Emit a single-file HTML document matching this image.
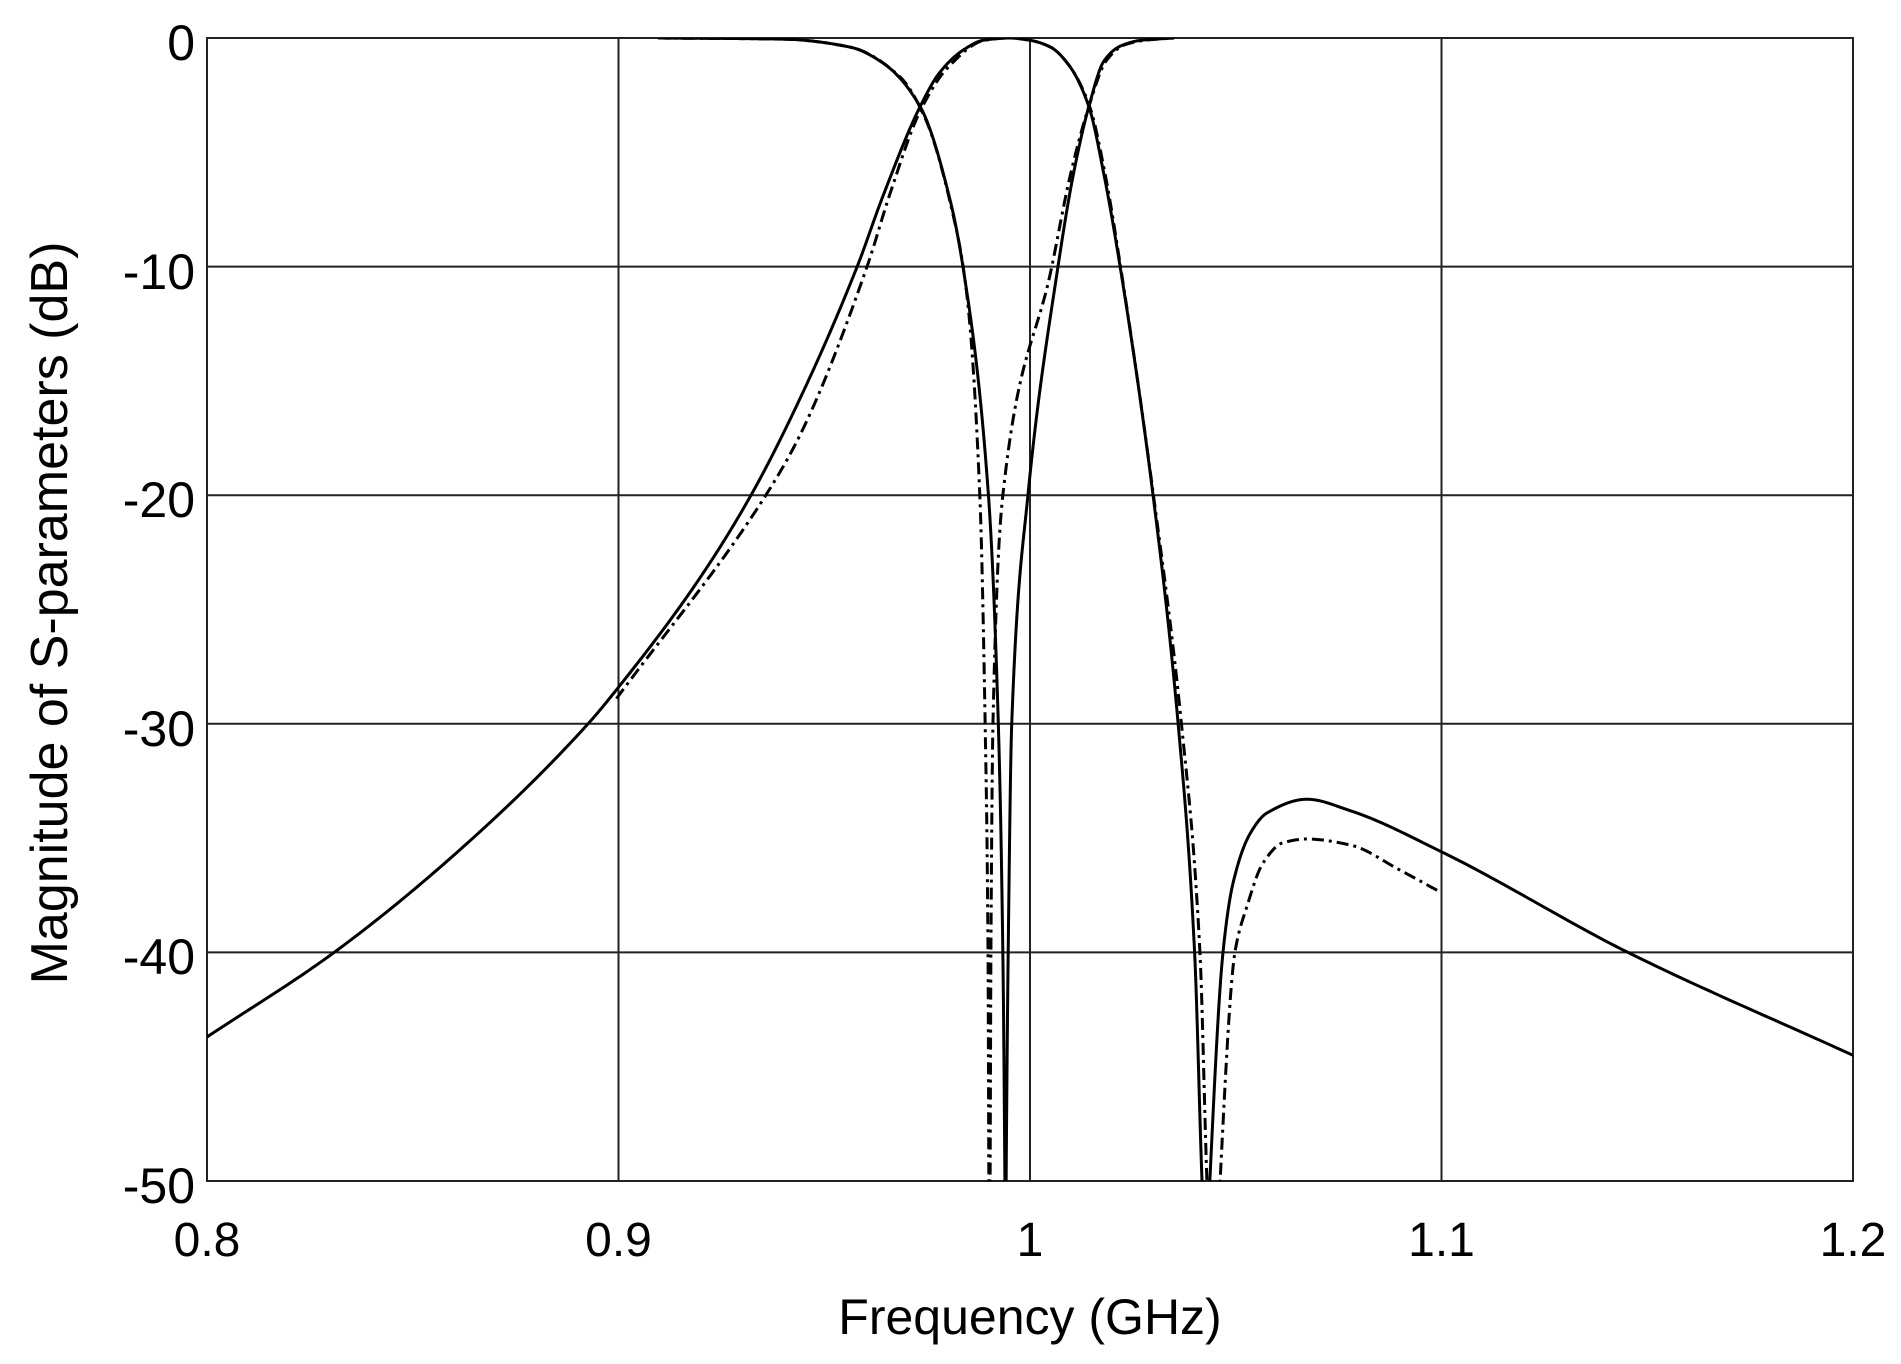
<!DOCTYPE html>
<html><head><meta charset="utf-8"><style>
html,body{margin:0;padding:0;background:#fff;}
svg{display:block;}
text{font-family:"Liberation Sans",Arial,sans-serif;fill:#000;}
</style></head><body>
<svg id="s" width="1901" height="1364" viewBox="0 0 1901 1364" xmlns="http://www.w3.org/2000/svg">
<defs><clipPath id="c"><rect x="207" y="38" width="1646" height="1143"/></clipPath></defs>
<rect x="0" y="0" width="1901" height="1364" fill="#fff"/>
<g stroke="#222" stroke-width="2" fill="none">
<line x1="207" y1="266.6" x2="1853" y2="266.6"/>
<line x1="207" y1="495.2" x2="1853" y2="495.2"/>
<line x1="207" y1="723.8" x2="1853" y2="723.8"/>
<line x1="207" y1="952.4" x2="1853" y2="952.4"/>
<line x1="618.5" y1="38" x2="618.5" y2="1181"/>
<line x1="1030" y1="38" x2="1030" y2="1181"/>
<line x1="1441.5" y1="38" x2="1441.5" y2="1181"/>
<rect x="207" y="38" width="1646" height="1143"/>
</g>
<g id="curves" clip-path="url(#c)" fill="none" stroke="#000" stroke-width="3" stroke-linejoin="round"></g>
<g font-size="50" text-anchor="end">
<text x="195" y="60">0</text>
<text x="195" y="289">-10</text>
<text x="195" y="517">-20</text>
<text x="195" y="746">-30</text>
<text x="195" y="974">-40</text>
<text x="195" y="1203">-50</text>
</g>
<g font-size="48" text-anchor="middle">
<text x="207" y="1256">0.8</text>
<text x="618.5" y="1256">0.9</text>
<text x="1030" y="1256">1</text>
<text x="1441.5" y="1256">1.1</text>
<text x="1853" y="1256">1.2</text>
</g>
<text x="1030" y="1334" font-size="50" text-anchor="middle">Frequency (GHz)</text>
<text transform="translate(67,613) rotate(-90)" font-size="52" text-anchor="middle">Magnitude of S-parameters (dB)</text>
</svg>
<script>
function X(f){return 207+(f-0.8)*4115;}
function Y(d){return 38-d*22.86;}
function mono(pts){
  var n=pts.length,x=pts.map(function(a){return a[0];}),y=pts.map(function(a){return a[1];});
  var d=[],m=[];
  for(var i=0;i<n-1;i++)d.push((y[i+1]-y[i])/(x[i+1]-x[i]));
  m[0]=d[0];m[n-1]=d[n-2];
  for(i=1;i<n-1;i++){ if(d[i-1]*d[i]<=0)m[i]=0; else { var h0=x[i]-x[i-1],h1=x[i+1]-x[i]; var w1=2*h1+h0,w2=h1+2*h0; m[i]=(w1+w2)/(w1/d[i-1]+w2/d[i]); } }
  var out=[];
  for(i=0;i<n-1;i++){
    var h=x[i+1]-x[i],N=30;
    for(var k=0;k<N;k++){
      var t=k/N,t2=t*t,t3=t2*t;
      var v=(2*t3-3*t2+1)*y[i]+(t3-2*t2+t)*h*m[i]+(-2*t3+3*t2)*y[i+1]+(t3-t2)*h*m[i+1];
      out.push([x[i]+t*h,v]);
    }
  }
  out.push([x[n-1],y[n-1]]);
  return "M"+out.map(function(p){return X(p[0]).toFixed(2)+","+Y(p[1]).toFixed(2);}).join(" L");
}
var S21=[[[0.8,-43.7],[0.8309,-40],[0.8634,-35.2],[0.8926,-30],[0.9,-28.4],[0.9191,-23.8],[0.9322,-20],[0.9443,-15.7],[0.958,-10],[0.9643,-6.9],[0.9733,-3],[0.9781,-1.5],[0.984,-0.5],[0.9886,-0.1],[0.995,0],[1.0,-0.1],[1.005,-0.4],[1.0095,-1.2],[1.0143,-3],[1.018,-6],[1.0219,-10],[1.0299,-20],[1.036,-30],[1.040,-40],[1.0418,-50],[1.0425,-53]],
[[1.043,-53],[1.0437,-50],[1.0469,-40],[1.0493,-37],[1.0535,-34.8],[1.0576,-33.9],[1.0673,-33.3],[1.0778,-33.8],[1.1,-35.6],[1.1453,-40],[1.2,-44.5]]];
var S21d=[[[0.8995,-28.9],[0.9358,-20],[0.9443,-17.3],[0.9604,-10],[0.966,-6.8],[0.9733,-3.2],[0.98,-1.3],[0.989,-0.1],[0.995,0],[1.0,-0.1],[1.005,-0.4],[1.0095,-1.2],[1.0145,-3],[1.0183,-6],[1.022,-10],[1.030,-20],[1.0368,-30],[1.0413,-40],[1.043,-50],[1.0437,-53]],
[[1.0455,-53],[1.0462,-50],[1.0498,-40],[1.0527,-38],[1.0566,-36.1],[1.0615,-35.2],[1.0673,-35.04],[1.0778,-35.3],[1.0899,-36.4],[1.0997,-37.36]]];
var S11=[[[0.9096,0],[0.94,-0.05],[0.9563,-0.4],[0.9643,-1.1],[0.9733,-3],[0.9806,-7.1],[0.9837,-10],[0.9899,-20],[0.9923,-30],[0.9934,-40],[0.9939,-50],[0.9940,-53]],
[[0.9941,-53],[0.9942,-50],[0.9947,-40],[0.99556,-30],[0.9995,-20],[1.0068,-10],[1.0105,-6],[1.0143,-3],[1.018,-1.0],[1.022,-0.35],[1.027,-0.1],[1.035,0]]];
var S11d=[[[0.9096,0],[0.94,-0.05],[0.9563,-0.4],[0.9684,-1.7],[0.9745,-3.5],[0.981,-7.5],[0.9845,-11],[0.9878,-20],[0.9891,-30],[0.9898,-40],[0.99,-50],[0.9901,-53]],
[[0.9902,-53],[0.9903,-50],[0.9905,-40],[0.991,-30],[0.9934,-20],[1.0053,-10],[1.0098,-6],[1.0143,-3],[1.0185,-1],[1.023,-0.3],[1.028,-0.1],[1.035,0]]];
var g=document.getElementById("curves"),ns="http://www.w3.org/2000/svg";
function add(segs,dash){segs.forEach(function(sg){var e=document.createElementNS(ns,"path");e.setAttribute("d",mono(sg));if(dash)e.setAttribute("stroke-dasharray",dash);g.appendChild(e);});}
add(S21d,"12 5 3 5");add(S11d,"12 5 3 5");add(S21,null);add(S11,null);
</script>
</body></html>
